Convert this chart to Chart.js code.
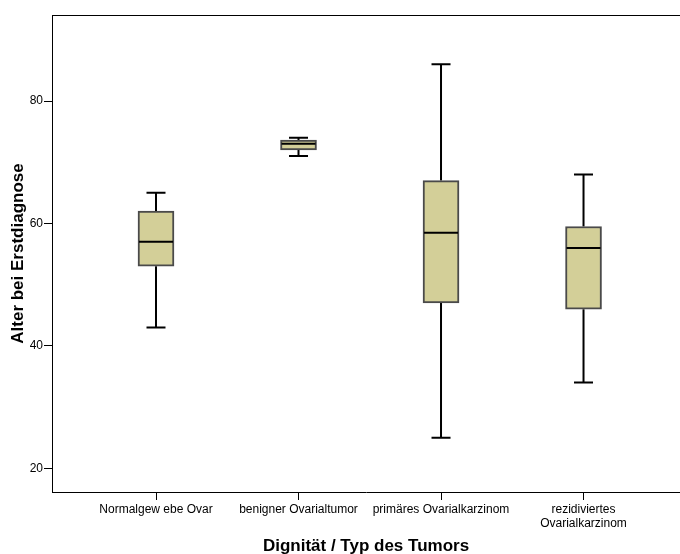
<!DOCTYPE html>
<html>
<head>
<meta charset="utf-8">
<script src="https://cdn.jsdelivr.net/npm/chart.js@4.4.0/dist/chart.umd.min.js"></script>
<style>
html, body { margin: 0; padding: 0; background: #fff; }
#wrap { width: 680px; height: 554px; }
</style>
</head>
<body>
<div id="wrap"><canvas id="boxplot"></canvas></div>
<script>
const categories = ['Normalgew ebe Ovar', 'benigner Ovarialtumor', 'primäres Ovarialkarzinom', ['rezidiviertes', 'Ovarialkarzinom']];
const minValues = [43, 71, 25, 34];
const q1Values = [53, 72, 47, 46];
const medianValues = [57, 73, 58.5, 56];
const q3Values = [62, 73.6, 67, 59.5];
const maxValues = [65, 74, 86, 68];
const yTicks = [20, 40, 60, 80];

const font = 'Liberation Sans';
const ctx = document.getElementById('boxplot').getContext('2d');

// whiskers, caps, medians and the top frame line
const boxPlugin = {
    id: 'boxparts',
    beforeDatasetsDraw(chart) {
        const c = chart.ctx;
        const x = chart.scales.x, y = chart.scales.y;
        c.save();
        c.strokeStyle = '#000';
        c.lineWidth = 2;
        categories.forEach((cat, i) => {
            const px = x.getPixelForValue(i + 1);
            const top = y.getPixelForValue(maxValues[i]);
            const bot = y.getPixelForValue(minValues[i]);
            c.beginPath();
            c.moveTo(px, y.getPixelForValue(q3Values[i])); c.lineTo(px, top);
            c.moveTo(px, y.getPixelForValue(q1Values[i])); c.lineTo(px, bot);
            c.moveTo(px - 9.5, top); c.lineTo(px + 9.5, top);
            c.moveTo(px - 9.5, bot); c.lineTo(px + 9.5, bot);
            c.stroke();
        });
        c.restore();
    },
    afterDatasetsDraw(chart) {
        const c = chart.ctx;
        const x = chart.scales.x, y = chart.scales.y;
        const area = chart.chartArea;
        c.save();
        c.strokeStyle = '#000';
        c.lineWidth = 2;
        categories.forEach((cat, i) => {
            const px = x.getPixelForValue(i + 1);
            const my = y.getPixelForValue(medianValues[i]);
            c.beginPath();
            c.moveTo(px - 17, my); c.lineTo(px + 17, my);
            c.stroke();
        });
        c.lineWidth = 1;
        c.beginPath();
        c.moveTo(area.left, area.top + 0.5); c.lineTo(area.right, area.top + 0.5);
        c.stroke();
        c.restore();
    }
};

const boxplot = new Chart(ctx, {
    type: 'bar',
    data: {
        datasets: [{
            data: categories.map((cat, i) => ({ x: i + 1, y: [q1Values[i], q3Values[i]] })),
            backgroundColor: '#D3CF98',
            borderColor: '#4a4a4a',
            borderWidth: 2,
            borderSkipped: false,
            barThickness: 36
        }]
    },
    options: {
        responsive: true,
        maintainAspectRatio: false,
        animation: false,
        layout: { padding: { top: 15, right: 0, left: 0, bottom: 0 } },
        plugins: { legend: { display: false }, tooltip: { enabled: false } },
        scales: {
            x: {
                type: 'linear',
                min: 0.2702,
                max: 4.677,
                offset: false,
                afterBuildTicks: s => { s.ticks = categories.map((cat, i) => ({ value: i + 1 })); },
                afterFit: s => { s.height = 62; },
                ticks: {
                    callback: v => categories[v - 1],
                    color: '#000',
                    font: { family: font, size: 12, lineHeight: 1.2 },
                    padding: 2,
                    maxRotation: 0,
                    autoSkip: false
                },
                grid: { offset: false, drawOnChartArea: false, drawTicks: true, tickLength: 8, color: '#000' },
                border: { color: '#000', width: 1 },
                title: {
                    display: true,
                    text: 'Dignität / Typ des Tumors',
                    color: '#000',
                    font: { family: font, size: 17, weight: 'bold', lineHeight: 1 },
                    padding: { top: 0, bottom: -0.5 }
                }
            },
            y: {
                min: 16.13,
                max: 94.05,
                afterBuildTicks: s => { s.ticks = yTicks.map(v => ({ value: v })); },
                afterFit: s => { s.width = 52; },
                ticks: {
                    color: '#000',
                    font: { family: font, size: 12 },
                    padding: 1
                },
                grid: { drawOnChartArea: false, drawTicks: true, tickLength: 8, color: '#000' },
                border: { color: '#000', width: 1 },
                title: {
                    display: true,
                    text: 'Alter bei Erstdiagnose',
                    color: '#000',
                    font: { family: font, size: 17, weight: 'bold', lineHeight: 1 },
                    padding: { top: 10, bottom: 0 }
                }
            }
        }
    },
    plugins: [boxPlugin]
});
</script>
</body>
</html>
